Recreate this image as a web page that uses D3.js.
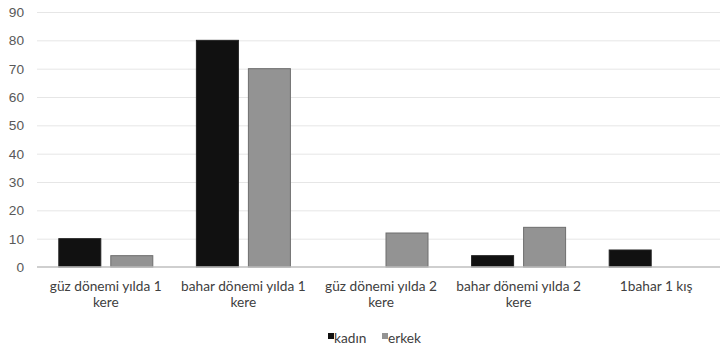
<!DOCTYPE html>
<html><head><meta charset="utf-8">
<script src="https://cdn.jsdelivr.net/npm/d3@7"></script>
<style>body{margin:0;background:#fff}svg{display:block;font-family:Lato,"Open Sans",sans-serif}</style>
</head><body><svg id="c" width="720" height="349"></svg>
<script>
const categories = ["güz dönemi yılda 1 kere","bahar dönemi yılda 1 kere","güz dönemi yılda 2 kere","bahar dönemi yılda 2 kere","1bahar 1 kış"];
const categoryLines = [["güz dönemi yılda 1","kere"],["bahar dönemi yılda 1","kere"],["güz dönemi yılda 2","kere"],["bahar dönemi yılda 2","kere"],["1bahar 1 kış"]];
const seriesNames = ["kadın","erkek"];
const kadin = [10,80,0,4,6];
const erkek = [4,70,12,14,0];
const yTicks = [0,10,20,30,40,50,60,70,80,90];
const colors = {"kadın":"#111111","erkek":"#939393"};
const strokes = {"kadın":"#222222","erkek":"#6e6e6e"};

const svg = d3.select("#c");
const y = d3.scaleLinear().domain([0,90]).range([267,12]);
const x0 = d3.scaleBand().domain(categories).range([37,725]);
const step = x0.bandwidth();
const x1 = d3.scaleBand().domain(seriesNames).range([(step-94)/2,(step+94)/2]).paddingInner(10/52).paddingOuter(0);
const fs = "13.7px";

// grid
const yAxis = d3.axisLeft(y).tickValues(yTicks).tickSize(-(720-37)).tickPadding(13);
const ga = svg.append("g").attr("transform","translate(37,0)").call(yAxis);
ga.select(".domain").remove();
ga.selectAll(".tick line").attr("stroke","#e6e6e6").attr("stroke-width",1).filter(d=>d===0).remove();
ga.selectAll(".tick text").attr("fill","#595959").attr("font-size",fs).attr("x",-13);

const data = categories.map((c,i)=>({cat:c, vals:[{s:"kadın",v:kadin[i]},{s:"erkek",v:erkek[i]}]}));
const g = svg.append("g");
g.selectAll("g.cat").data(data).join("g").attr("class","cat")
 .attr("transform",d=>`translate(${x0(d.cat)},0)`)
 .selectAll("rect").data(d=>d.vals.filter(e=>e.v>0)).join("rect")
 .attr("x",d=>x1(d.s)).attr("width",x1.bandwidth())
 .attr("y",d=>y(d.v)).attr("height",d=>y(0)-y(d.v))
 .attr("fill",d=>colors[d.s]).attr("stroke",d=>strokes[d.s]).attr("stroke-width",1);

// baseline
svg.append("line").attr("x1",37).attr("x2",720).attr("y1",y(0)).attr("y2",y(0)).attr("stroke","#bfbfbf").attr("stroke-width",1.5);

// category labels
const xl = svg.append("g");
categories.forEach((c,i)=>{
  const t = xl.append("text").attr("text-anchor","middle").attr("fill","#404040").attr("font-size",fs)
    .attr("x",x0(c)+step/2).attr("y",291);
  categoryLines[i].forEach((l,j)=>t.append("tspan").attr("x",x0(c)+step/2).attr("dy",j?16:0).text(l));
});

// legend
const legX = [328,382];
const lg = svg.append("g");
seriesNames.forEach((s,i)=>{
  lg.append("rect").attr("x",legX[i]).attr("y",333).attr("width",6).attr("height",6).attr("fill",colors[s]);
  lg.append("text").attr("x",legX[i]+6).attr("y",343).attr("fill","#404040").attr("font-size",fs).text(s);
});
</script></body></html>
